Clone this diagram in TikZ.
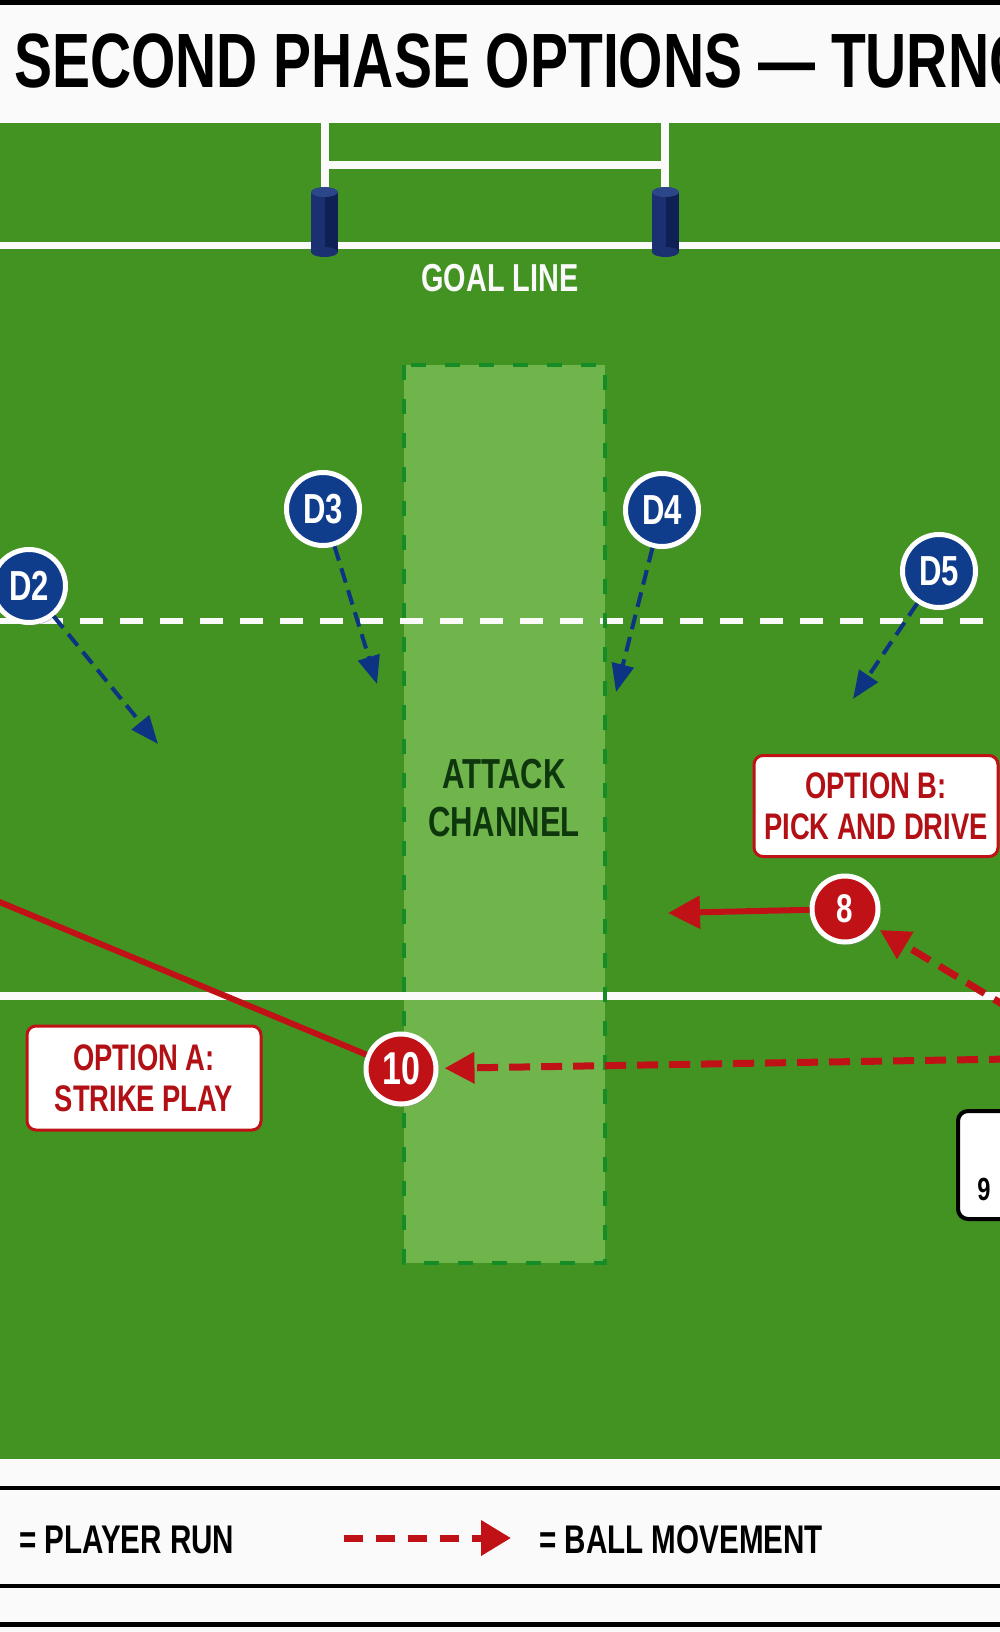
\documentclass[tikz,border=0pt]{standalone}
\usepackage{fontspec}
\setmainfont{Liberation Sans}[FakeStretch=0.74]
\usetikzlibrary{arrows.meta,shadows}

\definecolor{paper}{RGB}{250,250,250}
\definecolor{turf}{RGB}{67,147,35}
\definecolor{lane}{RGB}{112,180,76}
\definecolor{laneedge}{RGB}{22,140,38}
\definecolor{lanetext}{RGB}{14,55,14}
\definecolor{dnavy}{RGB}{16,60,140}
\definecolor{navyline}{RGB}{12,52,130}
\definecolor{padnavy}{RGB}{26,48,112}
\definecolor{paddark}{RGB}{15,32,84}
\definecolor{padtop}{RGB}{44,70,138}
\definecolor{rugbyred}{RGB}{192,18,22}
\definecolor{calltext}{RGB}{178,16,20}

\begin{document}
\begin{tikzpicture}[
  x=1pt,y=-1pt,
  defender/.style={circle,draw=white,line width=5pt,fill=dnavy,text=white,
    minimum size=73pt,inner sep=0pt,font=\fontsize{42}{42}\selectfont\bfseries,
    drop shadow={opacity=.35,shadow xshift=2pt,shadow yshift=-3pt}},
  attacker/.style={defender,fill=rugbyred,minimum size=66pt},
  callout/.style={draw=rugbyred,line width=3pt,fill=white,rounded corners=9pt,
    text=calltext,align=center,inner sep=0pt,
    font=\fontsize{37}{41}\selectfont\bfseries},
  cover/.style={navyline,line width=4pt,dash pattern=on 15pt off 8pt,
    -{Triangle[length=28pt,width=22pt]}},
  pass/.style={rugbyred,line width=7pt,dash pattern=on 21pt off 11pt,
    -{Triangle[length=30pt,width=30pt]}},
  run/.style={rugbyred,line width=6pt,-{Triangle[length=32pt,width=32pt]}}
]
  \useasboundingbox (0,0) rectangle (1000,1632);
  \clip (0,0) rectangle (1000,1632);
  \fill[paper] (0,0) rectangle (1000,1632);
  \fill[black] (0,0) rectangle (1000,5);
  \node[anchor=base west,inner sep=0pt,font=\fontsize{77}{77}\selectfont\bfseries]
    (title) at (14,88) {SECOND PHASE OPTIONS — TURNO};

  % pitch
  \fill[turf] (0,123) rectangle (1000,1459);
  \fill[lane] (404,365) rectangle (605,1263);
  \fill[paper] (0,242) rectangle (1000,249);
  \draw[paper,line width=6pt,dash pattern=on 23pt off 17pt] (0,621) -- (1000,621);
  \fill[paper] (0,992) rectangle (1000,1000);
  \draw[laneedge,line width=4pt,dash pattern=on 15pt off 19pt]
    (404,365) rectangle (605,1263);

  % posts
  \fill[paper] (321,123) rectangle (329,192);
  \fill[paper] (661,123) rectangle (669,192);
  \fill[paper] (329,161) rectangle (661,169);
  \foreach \px in {324.5,665.5} {
    \fill[padnavy] (\px-13.5,192) rectangle (\px+13.5,252);
    \fill[paddark] (\px,192) rectangle (\px+13.5,252);
    \fill[padnavy] (\px,252) ellipse (13.5 and 5);
    \fill[padtop] (\px,192) ellipse (13.5 and 5);
  }
  \node[text=paper,font=\fontsize{39}{39}\selectfont\bfseries] (goal) at (500,278) {GOAL LINE};
  \node[text=lanetext,align=center,font=\fontsize{42}{48}\selectfont\bfseries]
    (lanelabel) at (504,798) {ATTACK\\CHANNEL};

  % defence
  \node[defender] (D2) at (29,586) {D2};
  \node[defender] (D3) at (323,509) {D3};
  \node[defender] (D4) at (662,510) {D4};
  \node[defender] (D5) at (939,571) {D5};
  \coordinate (d2to) at (158,744);
  \coordinate (d3to) at (377,684);
  \coordinate (d4to) at (616,692);
  \coordinate (d5to) at (853,699);
  \draw[cover] (D2) -- (d2to);
  \draw[cover] (D3) -- (d3to);
  \draw[cover] (D4) -- (d4to);
  \draw[cover] (D5) -- (d5to);

  % attack
  \node[callout,minimum width=244pt,minimum height=101pt] (optB) at (876,806) {OPTION B:\\PICK AND DRIVE};
  \node[callout,minimum width=234pt,minimum height=104pt] (optA) at (144,1078) {OPTION A:\\STRIKE PLAY};
  \node[attacker,font=\fontsize{40}{40}\selectfont\bfseries] (p8) at (845,909) {8};
  \node[attacker,minimum size=70pt,font=\fontsize{46}{46}\selectfont\bfseries] (p10) at (401,1069) {10};
  \coordinate (p8run) at (668,913);
  \coordinate (p8feed) at (1012,1010);
  \coordinate (p10feed) at (1010,1059);
  \coordinate (p10line) at (-10,898);
  \draw[run] (p8) -- (p8run);
  \draw[pass,shorten >=5pt] (p8feed) -- (p8);
  \draw[pass,shorten >=6pt] (p10feed) -- (p10);
  \draw[rugbyred,line width=6pt] (p10) -- (p10line);

  % scrum half box
  \draw[line width=4pt,rounded corners=10pt,fill=white] (958,1111) rectangle (1080,1219);
  \node[font=\fontsize{32}{32}\selectfont\bfseries] (sh9) at (984,1189) {9};

  % legend
  \fill[black] (0,1486) rectangle (1000,1490);
  \fill[black] (0,1584) rectangle (1000,1588);
  \fill[black] (0,1622) rectangle (1000,1627);
  \node[anchor=west,inner sep=0pt,font=\fontsize{40}{40}\selectfont\bfseries] (legrun) at (19,1540) {= PLAYER RUN};
  \coordinate (legA) at (344,1538);
  \coordinate (legB) at (511,1538);
  \draw[pass,dash pattern=on 19pt off 13pt,-{Triangle[length=30pt,width=34pt]}] (legA) -- (legB);
  \node[anchor=west,inner sep=0pt,font=\fontsize{40}{40}\selectfont\bfseries] (legball) at (539,1540) {= BALL MOVEMENT};
\end{tikzpicture}
\end{document}
